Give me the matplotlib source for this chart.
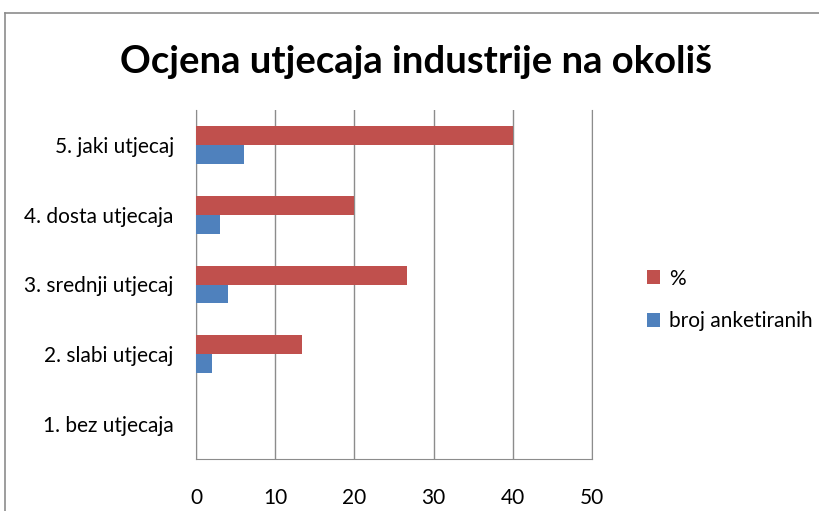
import matplotlib.pyplot as plt
from matplotlib.lines import Line2D

categories = ['1. bez utjecaja', '2. slabi utjecaj', '3. srednji utjecaj', '4. dosta utjecaja', '5. jaki utjecaj']
postotak = [0, 13.33, 26.67, 20, 40]
broj = [0, 2, 4, 3, 6]
xticks = [0, 10, 20, 30, 40, 50]

red = '#C0504D'
blue = '#4F81BD'
grid = '#8C8C8C'

plt.rcParams['font.family'] = ['Lato', 'DejaVu Sans']

fig = plt.figure(figsize=(8.19, 5.11), dpi=100)
ax = fig.add_axes([196/819, 1-459/511, (592-196)/819, (459-110)/511])

w = 0.27
pos = list(range(len(categories)))
ax.barh([p + w/2 for p in pos], postotak, height=w, color=red, label='%', zorder=3)
ax.barh([p - w/2 for p in pos], broj, height=w, color=blue, label='broj anketiranih', zorder=3)

ax.set_xlim(0, 50)
ax.set_ylim(-0.5, 4.5)
ax.set_xticks(xticks)
ax.set_xticklabels([str(t) for t in xticks], fontsize=15)
ax.set_yticks(pos)
ax.set_yticklabels(categories, fontsize=15)
ax.tick_params(axis='both', length=0)
ax.tick_params(axis='x', pad=21)
ax.tick_params(axis='y', pad=16)
ax.xaxis.grid(True, color=grid, linewidth=1, zorder=0)
ax.spines['top'].set_visible(False)
for s in ['left', 'bottom', 'right']:
    ax.spines[s].set_color(grid)

fig.text(416/819, 1-62/511, 'Ocjena utjecaja industrije na okoliš', fontsize=27.5,
         fontweight='bold', ha='center', va='center')

h, l = ax.get_legend_handles_labels()
fig.legend(h, l, loc='center left', bbox_to_anchor=(628/819, 1-300/511), frameon=False,
           fontsize=15, handlelength=0.65, handleheight=0.65, labelspacing=1.1, handletextpad=0.4)

# outer chart border (top and left)
fig.add_artist(Line2D([5/819, 5/819], [0, 1-13/511], color='#8C8C8C', linewidth=1.2, transform=fig.transFigure))
fig.add_artist(Line2D([5/819, 1], [1-13/511, 1-13/511], color='#8C8C8C', linewidth=1.2, transform=fig.transFigure))

fig.savefig('out.png', dpi=100)
